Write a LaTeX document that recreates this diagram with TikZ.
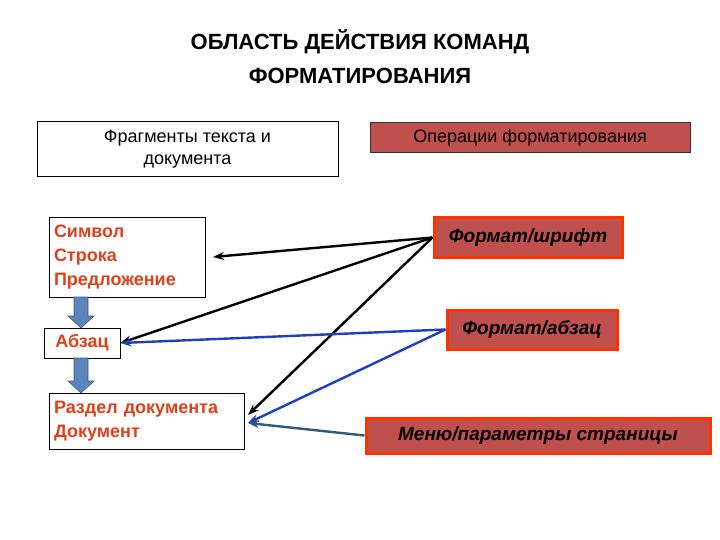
\documentclass[tikz,border=0pt]{standalone}
\usepackage{fontspec}
\setmainfont{Liberation Sans}
\usetikzlibrary{arrows.meta}
\definecolor{redfill}{HTML}{C0504D}
\definecolor{redline}{HTML}{FF3300}
\definecolor{blk}{HTML}{5B84BD}
\definecolor{lblue}{HTML}{1F3FBF}
\definecolor{teal}{HTML}{31597A}
\definecolor{txtred}{HTML}{E0401A}
\begin{document}
\begin{tikzpicture}[x=1pt,y=-1pt,
  wbox/.style={draw=black,fill=white,line width=1pt,inner sep=4pt,align=left,font=\fontsize{18}{24}\selectfont\bfseries,text=txtred},
  rbox/.style={draw=redline,fill=redfill,line width=3pt,font=\fontsize{19}{22}\selectfont\itshape\bfseries},
  con/.style={line width=2.4pt,-{Stealth[length=11pt,width=8pt]}},
  blockarr/.style={draw=blk!70!black,fill=blk,line width=0.6pt}]
\useasboundingbox (0,0) rectangle (720,540);
\node[align=center,font=\fontsize{22}{34}\selectfont\bfseries] (title) at (360,57) {ОБЛАСТЬ ДЕЙСТВИЯ КОМАНД\\ФОРМАТИРОВАНИЯ};
\node[draw=black,line width=1pt,minimum width=301pt,minimum height=55pt,align=center,font=\fontsize{18}{22}\selectfont] (frag) at (187.5,149.5) {Фрагменты текста и\\документа};
\node[draw=black!80,fill=redfill,line width=1pt,minimum width=320pt,minimum height=30pt,font=\fontsize{18}{20}\selectfont] (ops) at (530,138) {Операции форматирования};
\node[wbox,minimum width=156pt,minimum height=79pt,text width=146pt] (sym) at (127,257.5) {Символ\\Строка\\Предложение};
\node[wbox,minimum width=76pt,minimum height=30pt] (abz) at (82,343) {Абзац};
\node[wbox,minimum width=195pt,minimum height=56pt,text width=185pt] (razd) at (146.5,421) {Раздел документа\\Документ};
\node[rbox,minimum width=188pt,minimum height=39pt] (shr) at (528,237.5) {Формат/шрифт};
\node[rbox,minimum width=170pt,minimum height=39pt] (fabz) at (532,329.5) {Формат/абзац};
\node[rbox,minimum width=344pt,minimum height=35pt] (menu) at (538,435.5) {Меню/параметры страницы};
\draw[blockarr] (74,297) -- (88,297) -- (88,316) -- (94,316) -- (81,328) -- (68,316) -- (74,316) -- cycle;
\draw[blockarr] (74,358) -- (88,358) -- (88,381) -- (94,381) -- (81,393) -- (68,381) -- (74,381) -- cycle;
\coordinate (s1) at (213,257);
\coordinate (r1) at (248,415);
\coordinate (r2) at (248,423);
\draw[con] (shr.west) -- (s1);
\draw[con] (shr.west) -- (abz.east);
\draw[con] (shr.west) -- (r1);
\draw[con,draw=lblue] (fabz.west) -- (abz.east);
\draw[con,draw=lblue] (fabz.west) -- (r2);
\draw[con,draw=teal] (menu.west) -- (r2);
\end{tikzpicture}
\end{document}
